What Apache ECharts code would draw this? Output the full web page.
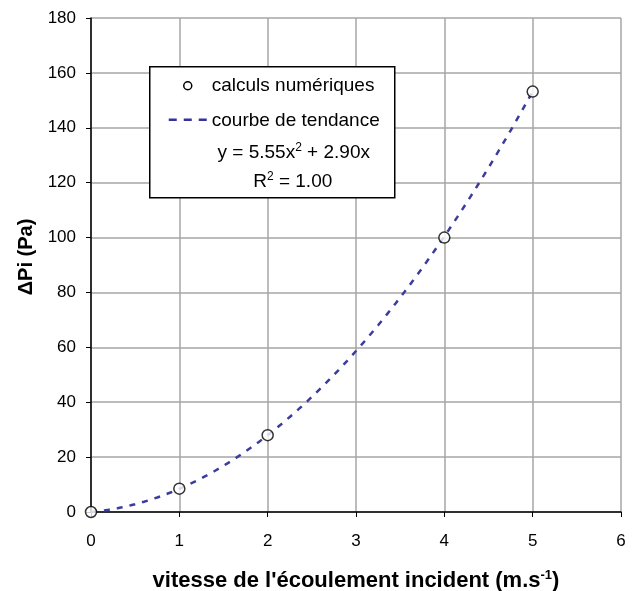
<!DOCTYPE html>
<html>
<head>
<meta charset="utf-8">
<script src="https://cdn.jsdelivr.net/npm/echarts@6/dist/echarts.min.js"></script>
<style>
  html, body { margin: 0; padding: 0; background: #fff; }
  #chart { width: 632px; height: 591px; }
</style>
</head>
<body>
<div id="chart"></div>
<script>
// Computed pressure drop vs incident flow velocity
const speeds = [0, 1, 2, 4, 5];
const deltaPi = [0, 8.5, 28, 100, 153.2];

// Quadratic trend fitted to the points: y = a x^2 + b x
const trendA = 5.55;
const trendB = 2.90;
const trendXMax = 5;

const xTicks = { min: 0, max: 6, interval: 1 };
const yTicks = { min: 0, max: 180, interval: 20 };

const FONT = 'Liberation Sans, Arial, sans-serif';

const pointData = speeds.map((x, i) => [x, deltaPi[i]]);
const trendData = [];
for (let k = 0; k <= 100; k++) {
  const x = trendXMax * k / 100;
  trendData.push([x, trendA * x * x + trendB * x]);
}

const chart = echarts.init(document.getElementById('chart'), null, { renderer: 'canvas' });

chart.setOption({
  backgroundColor: '#ffffff',
  animation: false,
  grid: { left: 91, right: 11, top: 18, bottom: 79, show: false, outerBoundsMode: 'none', containLabel: false },
  xAxis: {
    type: 'value',
    min: xTicks.min, max: xTicks.max, interval: xTicks.interval,
    name: '{t|vitesse de l\'écoulement incident (m.s}{s|-1}{t|)}',
    nameLocation: 'middle',
    nameGap: 57,
    nameTextStyle: {
      rich: {
        t: { fontFamily: FONT, fontSize: 22, fontWeight: 'bold', color: '#000' },
        s: { fontFamily: FONT, fontSize: 13, fontWeight: 'bold', color: '#000', padding: [0, 0, 11, 0] }
      }
    },
    axisLine: { show: true, onZero: false, lineStyle: { color: '#000', width: 1.5 } },
    axisTick: { show: true, length: 5, inside: false, lineStyle: { color: '#000' } },
    axisLabel: { fontFamily: FONT, fontSize: 17, color: '#000', margin: 21 },
    splitLine: { show: true, lineStyle: { color: '#a6a6a6', width: 1.5 } }
  },
  yAxis: {
    type: 'value',
    min: yTicks.min, max: yTicks.max, interval: yTicks.interval,
    name: 'ΔPi (Pa)',
    nameLocation: 'middle',
    nameGap: 53,
    nameRotate: 90,
    nameTextStyle: { fontFamily: FONT, fontSize: 20, fontWeight: 'bold', color: '#000', padding: [0, 0, 0, 16] },
    axisLine: { show: true, lineStyle: { color: '#000', width: 1.5 } },
    axisTick: { show: true, length: 5, inside: false, lineStyle: { color: '#000' } },
    axisLabel: { fontFamily: FONT, fontSize: 17, color: '#000', margin: 15 },
    splitLine: { show: true, lineStyle: { color: '#a6a6a6', width: 1.5 } }
  },
  series: [
    {
      name: 'courbe de tendance',
      type: 'line',
      data: trendData,
      showSymbol: false,
      smooth: false,
      lineStyle: { color: '#3c3c9e', width: 2.5, type: [6, 7] },
      z: 2
    },
    {
      name: 'calculs numériques',
      type: 'scatter',
      data: pointData,
      symbol: 'circle',
      symbolSize: 11,
      itemStyle: { color: '#ffffff', borderColor: '#000', borderWidth: 1.5 },
      z: 3
    }
  ],
  graphic: [
    {
      type: 'group',
      left: 149, top: 66,
      z: 100,
      children: [
        { type: 'rect', z: 100, shape: { x: 0, y: 0, width: 245, height: 131 },
          style: { fill: '#fff', stroke: '#000', lineWidth: 1.5 } },
        { type: 'circle', z: 101, shape: { cx: 38, cy: 19, r: 4 },
          style: { fill: '#fff', stroke: '#000', lineWidth: 1.5 } },
        { type: 'text', z: 101, x: 62, y: 19,
          style: { text: 'calculs numériques', font: '19px ' + FONT, fill: '#000', verticalAlign: 'middle' } },
        { type: 'line', z: 101, shape: { x1: 19, y1: 53, x2: 57, y2: 53 },
          style: { stroke: '#333399', lineWidth: 2.5, lineDash: [8, 7] } },
        { type: 'text', z: 101, x: 62, y: 54,
          style: { text: 'courbe de tendance', font: '19px ' + FONT, fill: '#000', verticalAlign: 'middle' } },
        { type: 'text', z: 101, x: 144, y: 86,
          style: {
            text: '{n|y = 5.55x}{s|2}{n| + 2.90x}',
            align: 'center', verticalAlign: 'middle',
            rich: {
              n: { fontFamily: FONT, fontSize: 19, color: '#000' },
              s: { fontFamily: FONT, fontSize: 12, color: '#000', padding: [0, 0, 10, 0] }
            }
          } },
        { type: 'text', z: 101, x: 143, y: 115,
          style: {
            text: '{n|R}{s|2}{n| = 1.00}',
            align: 'center', verticalAlign: 'middle',
            rich: {
              n: { fontFamily: FONT, fontSize: 19, color: '#000' },
              s: { fontFamily: FONT, fontSize: 12, color: '#000', padding: [0, 0, 10, 0] }
            }
          } }
      ]
    }
  ]
});
</script>
</body>
</html>
